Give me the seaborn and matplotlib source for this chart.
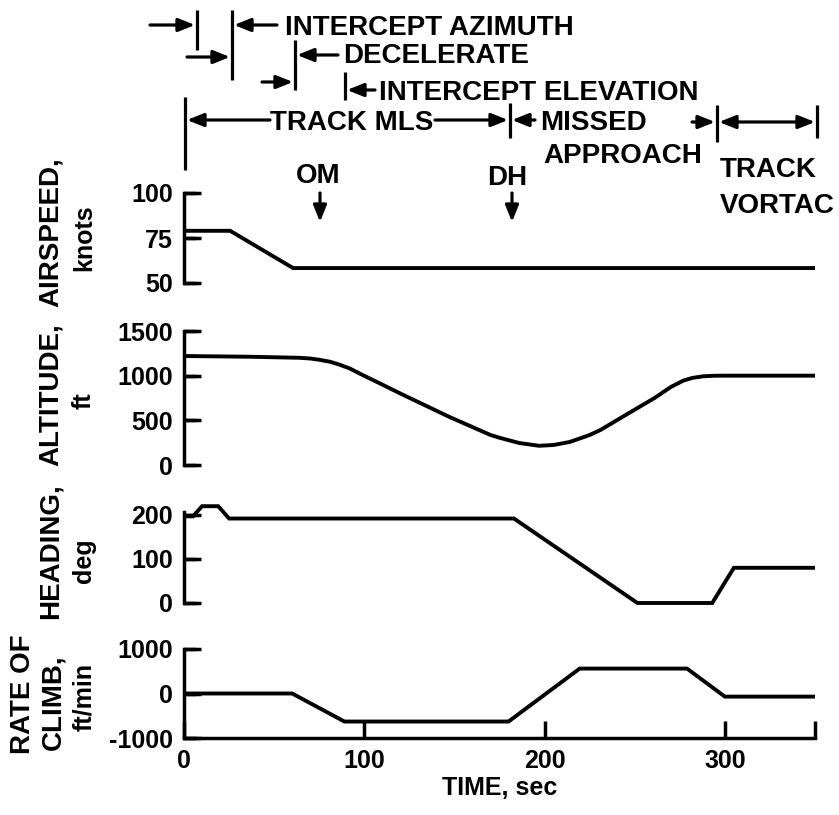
import matplotlib
matplotlib.use("Agg")
import matplotlib.pyplot as plt
import matplotlib.transforms as mtransforms
from matplotlib.lines import Line2D
import seaborn as sns
import pandas as pd

# ---------------- data ----------------
time_airspeed = [0, 25.6, 60.5, 350]
airspeed = [79, 79, 58.3, 58.3]

time_altitude = [0, 36, 64, 70, 75, 81, 86, 92, 99, 110, 120, 147, 170, 175, 186, 197,
                 205, 214, 225, 231, 245, 261, 270, 277, 282, 288, 294, 300, 350]
altitude = [1220, 1212, 1200, 1192, 1178, 1156, 1125, 1080, 1008, 900, 800, 540, 336,
            305, 246, 215, 224, 258, 336, 392, 560, 750, 873, 945, 975, 993, 999,
            1000, 1000]

time_heading = [0, 5, 10, 19, 25, 183, 251.5, 293, 305, 350]
heading = [197, 197, 220, 220, 192, 192, 0, 0, 80, 80]

time_rate = [0, 60, 89, 180, 219.5, 279, 300, 350]
rate_of_climb = [0, 0, -630, -630, 560, 560, -70, -70]

airspeed_ticks = [50, 75, 100]
altitude_ticks = [0, 500, 1000, 1500]
heading_ticks = [0, 100, 200]
rate_ticks = [-1000, 0, 1000]
time_ticks = [0, 100, 200, 300, 350]
time_tick_labels = ["0", "100", "200", "300", ""]

# ---------------- style ----------------
sns.set_style("ticks")
plt.rcParams["font.family"] = ["Liberation Sans", "DejaVu Sans"]
plt.rcParams["font.weight"] = "bold"
for k in ["text.color", "axes.labelcolor", "xtick.color", "ytick.color", "axes.edgecolor"]:
    plt.rcParams[k] = "black"

W, H = 839, 815
fig = plt.figure(figsize=(W / 100, H / 100), dpi=100)

def frac(px_top, px_bot):
    return 1 - px_bot / H, (px_bot - px_top) / H

L = 184 / W
Wd = (815 - 184) / W
TICK_AX = 12 / 631  # inward tick length as a fraction of the axes width

b, h = frac(193, 283)
ax1 = fig.add_axes([L, b, Wd, h])
b, h = frac(331, 465)
ax2 = fig.add_axes([L, b, Wd, h])
b, h = frac(501.8, 603)
ax3 = fig.add_axes([L, b, Wd, h])
b, h = frac(649, 738)
ax4 = fig.add_axes([L, b, Wd, h])

LW = 2.8
series = [
    (ax1, time_airspeed, airspeed, (50, 100), airspeed_ticks, (50, 100)),
    (ax2, time_altitude, altitude, (0, 1500), altitude_ticks, (0, 1500)),
    (ax3, time_heading, heading, (0, 230), heading_ticks, (0, 207)),
    (ax4, time_rate, rate_of_climb, (-1000, 1000), rate_ticks, (-1000, 1000)),
]
for ax, tx, ty, ylim, yt, bounds in series:
    df = pd.DataFrame({"t": tx, "v": ty})
    sns.lineplot(data=df, x="t", y="v", ax=ax, color="black", linewidth=LW,
                 estimator=None, sort=False)
    for ln in ax.get_lines():
        ln.set_clip_on(False)
        ln.set_solid_capstyle("butt")
        ln.set_solid_joinstyle("miter")
    ax.set_xlim(0, 350)
    ax.set_ylim(*ylim)
    ax.set_yticks(yt)
    ax.set_yticklabels([str(v) for v in yt])
    ax.set_xlabel("")
    ax.set_ylabel("")
    ax.set_facecolor("none")
    for s in ["top", "right"]:
        ax.spines[s].set_visible(False)
    ax.spines["left"].set_bounds(*bounds)
    ax.spines["left"].set_linewidth(2.5)
    ax.spines["left"].set_color("black")
    if ax is not ax4:
        ax.spines["bottom"].set_visible(False)
        ax.set_xticks([])
    ax.tick_params(axis="both", which="major", direction="in", length=12, width=2.5,
                   labelsize=18, pad=8, color="black", labelcolor="black",
                   left=True, bottom=True)
    # inward tick marks along the left spine, at the tick values
    ax.hlines(yt, 0, TICK_AX, transform=ax.get_yaxis_transform(), colors="black",
              linewidth=2.5, clip_on=False)

ax4.spines["bottom"].set_bounds(0, 350)
ax4.spines["bottom"].set_linewidth(2.5)
ax4.spines["bottom"].set_color("black")
ax4.set_xticks(time_ticks)
ax4.set_xticklabels(time_tick_labels)
ax4.tick_params(axis="x", which="major", direction="in", length=12, width=2.5,
                labelsize=18, pad=8, color="black", bottom=True)
ax4.set_xlabel("TIME, sec", fontsize=18, fontweight="bold", labelpad=2, color="black")

fig.canvas.draw()

# ---------------- annotation helpers ----------------
T_px = mtransforms.Affine2D().scale(1 / W, -1 / H).translate(0, 1) + fig.transFigure
T_tx = mtransforms.blended_transform_factory(ax4.transData, T_px)

def vline(t, y0, y1):
    fig.add_artist(Line2D([t, t], [y0, y1], transform=T_tx, color="black",
                          lw=2.3, solid_capstyle="butt"))

def arrow(t0, t1, y0, y1=None, style="-|>"):
    if y1 is None:
        y1 = y0
    ax4.annotate("", xy=(t1, y1), xytext=(t0, y0), xycoords=T_tx, textcoords=T_tx,
                 annotation_clip=False,
                 arrowprops=dict(arrowstyle=style + ",head_length=0.55,head_width=0.22",
                                 color="black", lw=2.3, shrinkA=0, shrinkB=0,
                                 mutation_scale=18))

def label(t, y, s, ha="left", size=20):
    fig.text(t, y, s, transform=T_tx, ha=ha, va="baseline", fontsize=size,
             fontweight="bold", color="black")

def px2t(px):
    return (px - 184) * 350 / 631

# row 1
arrow(px2t(150), px2t(195), 25)
vline(px2t(197), 10, 50)
vline(px2t(232), 10, 80)
arrow(px2t(277), px2t(234), 25)
label(px2t(285), 35, "INTERCEPT AZIMUTH")
# row 2
arrow(px2t(187), px2t(230), 57)
vline(px2t(295), 40, 90)
arrow(px2t(338), px2t(297), 55)
label(px2t(343), 63, "DECELERATE")
# row 3
arrow(px2t(262), px2t(293), 82)
vline(px2t(345), 72, 100)
arrow(px2t(375), px2t(347), 90)
label(px2t(379), 100, "INTERCEPT ELEVATION")
# row 4
vline(px2t(185), 97, 170)
arrow(px2t(270), px2t(187), 120)
label(px2t(352), 130, "TRACK MLS", ha="center")
arrow(px2t(435), px2t(508), 120)
vline(px2t(510), 103, 138)
arrow(px2t(535), px2t(512), 120)
label(px2t(540), 130, "MISSED")
label(px2t(543), 163, "APPROACH")
arrow(px2t(692), px2t(715), 122)
vline(px2t(717), 105, 142)
arrow(px2t(719), px2t(815), 122, style="<|-|>")
vline(px2t(817), 105, 138)
label(px2t(720), 177, "TRACK")
label(px2t(720), 213, "VORTAC")
# markers
label(px2t(318), 183, "OM", ha="center")
arrow(px2t(320), px2t(320), 193, 222)
label(px2t(507), 185, "DH", ha="center")
arrow(px2t(512), px2t(512), 193, 222)

# ---------------- y labels ----------------
def ylab(px, py, s, size=20):
    fig.text(px, py, s, transform=T_px, rotation=90, ha="center", va="center",
             fontsize=size, fontweight="bold", color="black")

ylab(51, 232, "AIRSPEED,")
ylab(84, 238, "knots", 18)
ylab(51, 395, "ALTITUDE,")
ylab(84, 401, "ft", 18)
ylab(51, 551, "HEADING,")
ylab(84, 561, "deg", 18)
ylab(23, 694, "RATE OF")
ylab(53, 702, "CLIMB,")
ylab(84, 697, "ft/min", 18)

fig.savefig("out.png", dpi=100)
